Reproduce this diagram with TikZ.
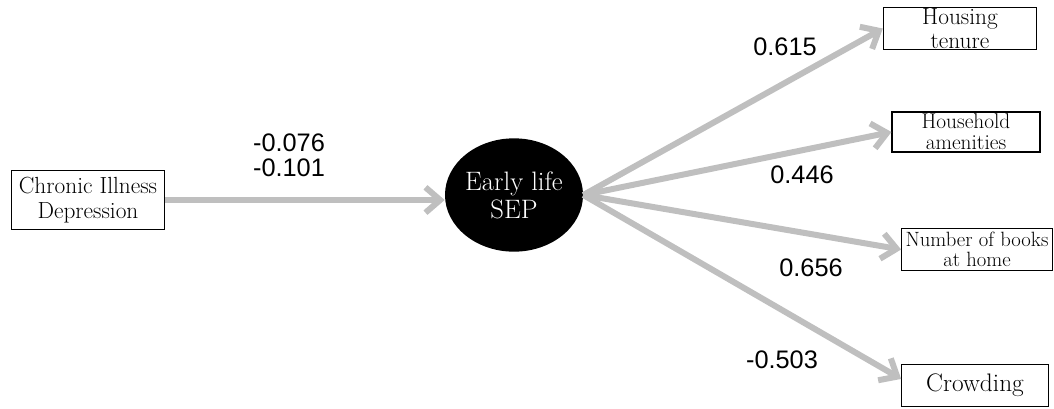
\documentclass[tikz,border=0pt]{standalone}
\usepackage{fontspec}
\newfontfamily\numfont{Liberation Sans}
\usepackage{xcolor}
\usepackage{tikz}
\usetikzlibrary{shapes,shapes.geometric,arrows.meta,positioning,calc}
\definecolor{PathGray}{HTML}{BFBFBF}

\begin{document}
\begin{tikzpicture}[
  x=0.75pt,y=-0.75pt,
  obs/.style={rectangle,draw=black,line width=0.8pt,align=center,inner xsep=1pt,inner ysep=0pt},
  latent/.style={ellipse,fill=black,text=white,minimum width=103pt,minimum height=85pt,
                 inner sep=0pt,align=center,font=\fontsize{20}{21}\selectfont},
  path/.style={draw=PathGray,line width=4.5pt,-{Straight Barb[length=11pt,width=19pt]}},
  coef/.style={font=\numfont\fontsize{19}{18.75}\selectfont,align=left,inner sep=0pt}
]
\useasboundingbox (0,0) rectangle (1054,408);
% indicators and cause
\node[obs,minimum width=115pt,minimum height=44pt,font=\fontsize{17.5}{18.5}\selectfont]
  (illness) at (88,200) {Chronic Illness\\Depression};
\node[latent] (sep) at (514,195) {Early life\\SEP};
\node[obs,minimum width=115pt,minimum height=32pt,font=\fontsize{17.5}{17.5}\selectfont]
  (tenure) at (960,28.5) {Housing\\tenure};
\node[obs,minimum width=111pt,minimum height=30pt,font=\fontsize{16}{15.5}\selectfont]
  (amenities) at (966,132) {Household\\amenities};
\node[obs,minimum width=113pt,minimum height=32pt,font=\fontsize{15.5}{15}\selectfont]
  (books) at (977,249.5) {Number of books\\at home};
\node[obs,minimum width=110pt,minimum height=32pt,font=\fontsize{19}{18}\selectfont]
  (crowding) at (975,385.5) {Crowding};
% paths
\draw[path] (illness.east) -- (illness.east -| sep.west);
\draw[path] (sep.east) -- (tenure.west);
\draw[path] (sep.east) -- (amenities.west);
\draw[path] (sep.east) -- (books.west);
\draw[path] (sep.east) -- ($(crowding.north west)!0.35!(crowding.south west)$);
% loadings
\node[coef] (c1) at (289,155) {-0.076\\-0.101};
\node[coef] (l1) at (785,47) {0.615};
\node[coef] (l2) at (802,175) {0.446};
\node[coef] (l3) at (811,268) {0.656};
\node[coef] (l4) at (782,360) {-0.503};
\end{tikzpicture}
\end{document}
